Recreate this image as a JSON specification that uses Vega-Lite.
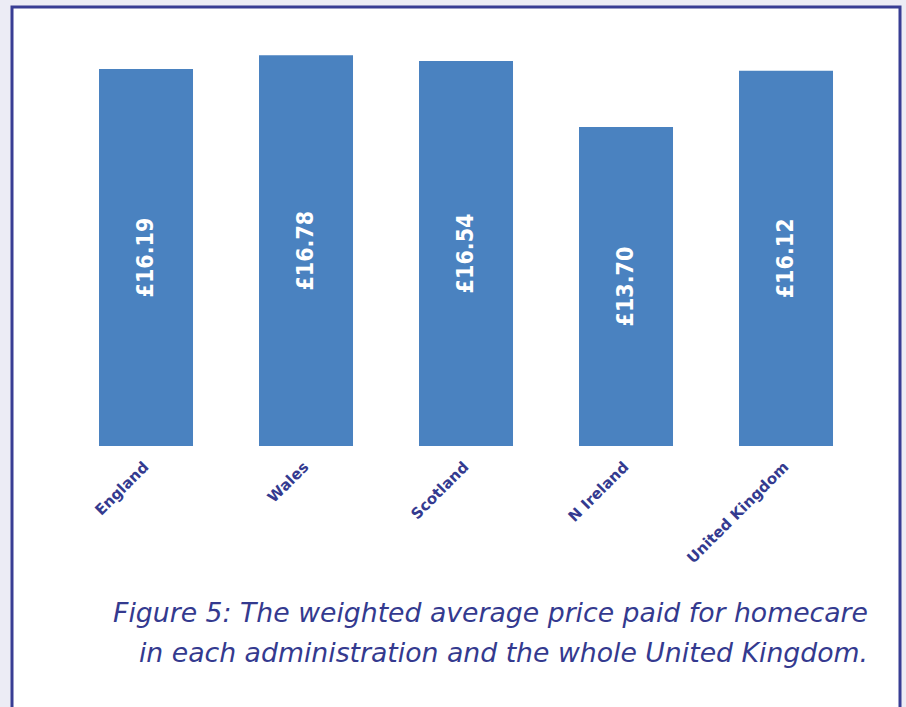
{
  "$schema": "https://vega.github.io/schema/vega-lite/v6.json",
  "width": 888,
  "height": 705,
  "autosize": "none",
  "padding": {"left": 12, "top": 7, "right": 6, "bottom": 0},
  "background": "#ececf5",
  "data": {
    "values": [
      {"region": "England", "price": 16.19, "label": "£16.19"},
      {"region": "Wales", "price": 16.78, "label": "£16.78"},
      {"region": "Scotland", "price": 16.54, "label": "£16.54"},
      {"region": "N Ireland", "price": 13.70, "label": "£13.70"},
      {"region": "United Kingdom", "price": 16.12, "label": "£16.12"}
    ]
  },
  "transform": [{"calculate": "datum.price/2", "as": "mid"}],
  "title": {
    "text": ["Figure 5: The weighted average price paid for homecare", "in each administration and the whole United Kingdom."],
    "orient": "bottom",
    "anchor": "end",
    "align": "right",
    "frame": "group",
    "offset": -111,
    "dx": -32,
    "font": "DejaVu Sans",
    "fontStyle": "italic",
    "fontWeight": "normal",
    "fontSize": 26.7,
    "lineHeight": 40,
    "color": "#343a8f"
  },
  "encoding": {
    "x": {
      "field": "region",
      "type": "nominal",
      "sort": null,
      "scale": {"paddingInner": 0.4125, "paddingOuter": 0.48125, "align": 0.565},
      "axis": {
        "title": null,
        "orient": "bottom",
        "offset": -266,
        "domain": false,
        "ticks": false,
        "grid": false,
        "labelAngle": -45,
        "labelFont": "DejaVu Sans",
        "labelFontWeight": "bold",
        "labelFontSize": 15,
        "labelColor": "#343a8f",
        "labelPadding": 13,
        "labelOffset": -5
      }
    }
  },
  "layer": [
    {
      "mark": {"type": "bar", "color": "#4a82c0"},
      "encoding": {
        "y": {
          "field": "price",
          "type": "quantitative",
          "scale": {"domain": [-11.426, 18.857], "nice": false, "zero": false},
          "axis": null
        },
        "y2": {"datum": 0}
      }
    },
    {
      "mark": {
        "type": "text",
        "angle": 270,
        "color": "white",
        "font": "DejaVu Sans Condensed",
        "fontWeight": "bold",
        "fontSize": 23,
        "align": "center",
        "baseline": "middle"
      },
      "encoding": {
        "y": {"field": "mid", "type": "quantitative"},
        "text": {"field": "label"}
      }
    }
  ],
  "config": {
    "view": {"stroke": "#383d94", "strokeWidth": 3, "fill": "white"}
  }
}
